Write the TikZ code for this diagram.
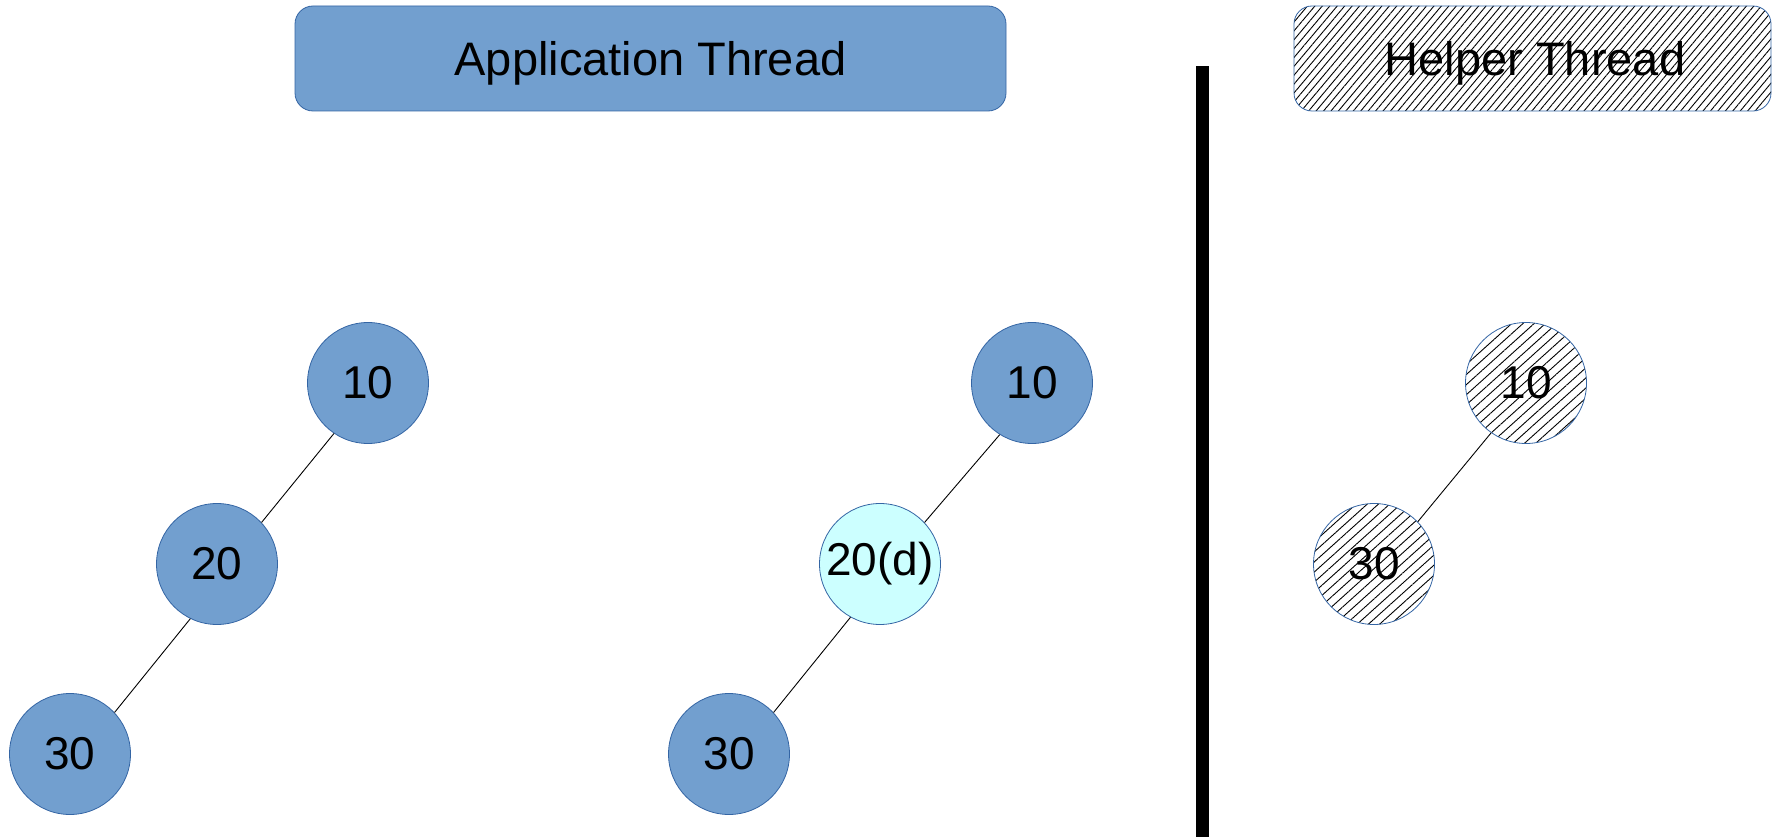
\documentclass[tikz,border=0pt]{standalone}
\usepackage{fontspec}
\setmainfont{Liberation Sans}
\usetikzlibrary{patterns.meta}
\definecolor{nodeblue}{HTML}{729FCF}
\definecolor{edgeblue}{HTML}{3465A4}
\definecolor{delcyan}{HTML}{CCFFFF}
\begin{document}
\begin{tikzpicture}[x=1pt,y=-1pt,
  header/.style={rounded corners=18pt, draw=edgeblue, line width=0.8pt, font=\fontsize{47}{50}\selectfont, inner sep=0pt},
  headertext/.style={font=\fontsize{47}{50}\selectfont, inner sep=0pt},
  tnode/.style={circle, draw=edgeblue, line width=0.8pt, minimum size=121pt, inner sep=0pt, font=\fontsize{46}{48}\selectfont},
  bluenode/.style={tnode, fill=nodeblue},
  delnode/.style={tnode, fill=delcyan},
  hatchnode/.style={tnode, pattern={Lines[angle=42,distance=7.5pt,line width=0.9pt]}},
  link/.style={draw=black, line width=0.9pt}]
\useasboundingbox (0,0) rectangle (1772,837);
% headers
\node[header, fill=nodeblue, minimum width=711pt, minimum height=105pt] (app) at (650.5,58.5) {};
\node[headertext] (apptext) at (650.5,63) {Application Thread};
\node[header, pattern={Lines[angle=50,distance=5.7pt,line width=0.9pt]}, minimum width=477pt, minimum height=105pt] (helper) at (1532.5,58.5) {};
\node[headertext] (helpertext) at (1535,63) {Helper Thread};
% separator
\fill[black] (1196,66) rectangle (1209,837);
% first tree
\node[bluenode] (a10) at (368,383) {10};
\node[bluenode] (a20) at (217,564) {20};
\node[bluenode] (a30) at (70,754) {30};
\draw[link] (a10.236) -- (a20.43);
\draw[link] (a20.244) -- (a30.43);
% second tree
\node[bluenode] (b10) at (1032,383) {10};
\node[delnode] (b20) at (880,564) {20(d)};
\node[bluenode] (b30) at (729,754) {30};
\draw[link] (b10.238) -- (b20.43);
\draw[link] (b20.241) -- (b30.43);
% helper tree
\node[hatchnode] (h10) at (1526,383) {10};
\node[hatchnode] (h30) at (1374,564) {30};
\draw[link] (h10.235) -- (h30.44);
\end{tikzpicture}
\end{document}
